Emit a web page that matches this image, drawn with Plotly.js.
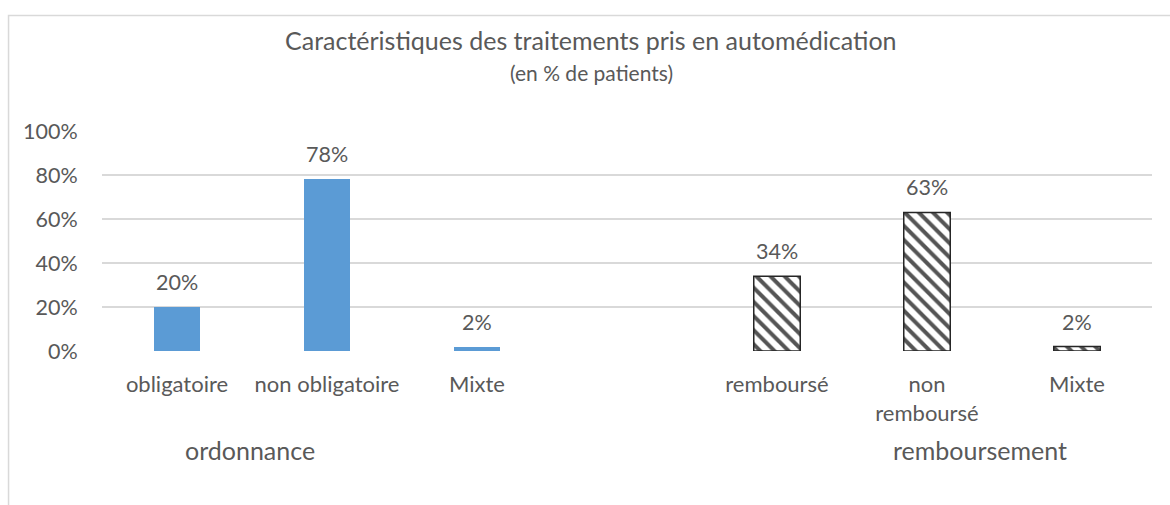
<!DOCTYPE html>
<html>
<head>
<meta charset="utf-8">
<script src="https://cdn.plot.ly/plotly-3.0.1.min.js"></script>
<style>html,body{margin:0;padding:0;background:#fff;}#chart{width:1170px;height:505px;}</style>
</head>
<body>
<div id="chart"></div>
<script>
// Data
const ordonnanceLabels = ["obligatoire", "non obligatoire", "Mixte"];
const ordonnanceValues = [20, 78, 2];
const remboursementLabels = ["remboursé", "non<br>remboursé", "Mixte"];
const remboursementValues = [34, 63, 2];
const groupLabels = ["ordonnance", "remboursement"];
const yTicks = [0, 20, 40, 60, 80, 100];
const titleText = "Caractéristiques des traitements pris en automédication";
const subtitleText = "(en % de patients)";

const posA = [0, 1, 2];
const posB = [4, 5, 6];
const gray = "#595959";
const font = "Lato, 'Open Sans', sans-serif";

const traces = [
  {
    type: "bar", x: posA, y: ordonnanceValues, width: 0.31,
    marker: {color: "#5B9BD5", line: {width: 0}},
    hoverinfo: "none", showlegend: false
  },
  {
    type: "bar", x: posB, y: remboursementValues, width: 0.31,
    marker: {
      color: "#ffffff",
      line: {color: "#262626", width: 1.5},
      pattern: {shape: "\\", fgcolor: "#555555", bgcolor: "#ffffff", size: 10, solidity: 0.4}
    },
    hoverinfo: "none", showlegend: false
  }
];

const labelFont = {family: font, size: 21.5, color: gray};
const annotations = [];
posA.forEach((p, i) => annotations.push({x: p, y: ordonnanceValues[i], xref: "x", yref: "y", text: ordonnanceValues[i] + "%", showarrow: false, xanchor: "center", yanchor: "bottom", yshift: 10, font: labelFont}));
posB.forEach((p, i) => annotations.push({x: p, y: remboursementValues[i], xref: "x", yref: "y", text: remboursementValues[i] + "%", showarrow: false, xanchor: "center", yanchor: "bottom", yshift: 10, font: labelFont}));
annotations.push({x: 0.141, y: -0.45, xref: "paper", yref: "paper", text: groupLabels[0], showarrow: false, xanchor: "center", yanchor: "middle", font: {family: font, size: 25, color: gray}});
annotations.push({x: 0.836, y: -0.45, xref: "paper", yref: "paper", text: groupLabels[1], showarrow: false, xanchor: "center", yanchor: "middle", font: {family: font, size: 25, color: gray}});
annotations.push({x: 0.466, y: 1.414, xref: "paper", yref: "paper", text: titleText, showarrow: false, xanchor: "center", yanchor: "middle", font: {family: font, size: 25, color: gray}});
annotations.push({x: 0.466, y: 1.268, xref: "paper", yref: "paper", text: subtitleText, showarrow: false, xanchor: "center", yanchor: "middle", font: {family: font, size: 21, color: gray}});

const layout = {
  width: 1170, height: 505,
  margin: {l: 102, r: 18, t: 131, b: 154},
  paper_bgcolor: "#ffffff", plot_bgcolor: "#ffffff",
  font: {family: font, color: gray},
  bargap: 0,
  xaxis: {
    range: [-0.5, 6.5], tickvals: posA.concat(posB),
    ticktext: ordonnanceLabels.concat(remboursementLabels),
    showgrid: false, zeroline: false, showline: false,
    ticks: "outside", ticklen: 14, tickcolor: "rgba(0,0,0,0)",
    tickfont: {family: font, size: 22, color: gray}, fixedrange: true
  },
  yaxis: {
    range: [0, 100], tickvals: yTicks, ticktext: yTicks.map(v => v + "%"),
    showgrid: true, gridcolor: "#d9d9d9", gridwidth: 1.5, zeroline: false, showline: false,
    ticks: "outside", ticklen: 19, tickcolor: "rgba(0,0,0,0)",
    tickfont: {family: font, size: 21.5, color: gray}, fixedrange: true
  },
  annotations: annotations,
  shapes: [{type: "rect", xref: "paper", yref: "paper", x0: -0.089, x1: 1.1, y0: -1, y1: 1.525, line: {color: "#d9d9d9", width: 1.5}, layer: "below"}]
};

Plotly.newPlot("chart", traces, layout, {displayModeBar: false, staticPlot: true});
</script>
</body>
</html>
